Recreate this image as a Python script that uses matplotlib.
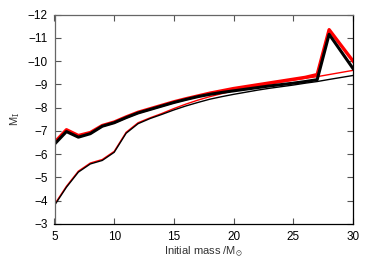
import matplotlib
matplotlib.use("Agg")
import matplotlib.pyplot as plt

plt.rcParams['font.family'] = ['Liberation Sans', 'DejaVu Sans']
plt.rcParams['mathtext.fontset'] = 'stixsans'

# initial masses (solar masses)
mass = [5, 6, 7, 8, 9, 10, 11, 12, 13, 14, 15, 16, 17, 18, 19, 20,
        21, 22, 23, 24, 25, 26, 27, 28, 30]

# thick curves
thick_red = [-6.50, -7.05, -6.80, -6.93, -7.23, -7.38, -7.60, -7.80, -7.95, -8.10,
             -8.25, -8.38, -8.50, -8.62, -8.72, -8.82, -8.90, -8.98, -9.06, -9.14,
             -9.22, -9.30, -9.42, -11.35, -10.00]
thick_black = [-6.43, -6.97, -6.73, -6.88, -7.20, -7.35, -7.57, -7.77, -7.92, -8.07,
               -8.22, -8.35, -8.47, -8.57, -8.65, -8.72, -8.79, -8.86, -8.93, -8.99,
               -9.05, -9.12, -9.20, -11.15, -9.68]

# thin curves
thin_red = [-3.84, -4.62, -5.27, -5.62, -5.77, -6.12, -6.94, -7.35, -7.56, -7.75,
            -7.96, -8.15, -8.32, -8.47, -8.60, -8.72, -8.82, -8.92, -9.01, -9.10,
            -9.18, -9.26, -9.33, -9.42, -9.60]
thin_black = [-3.80, -4.58, -5.23, -5.58, -5.73, -6.08, -6.90, -7.31, -7.53, -7.71,
              -7.90, -8.07, -8.22, -8.36, -8.47, -8.57, -8.66, -8.75, -8.83, -8.90,
              -8.97, -9.05, -9.12, -9.21, -9.38]

fig = plt.figure(figsize=(3.74, 2.61), dpi=100)
ax = fig.add_axes([54.5 / 374, 1 - 224 / 261, (353 - 54.5) / 374, (224 - 14.5) / 261])

ax.plot(mass, thin_red, color='red', lw=1.0)
ax.plot(mass, thin_black, color='black', lw=1.0)
ax.plot(mass, thick_red, color='red', lw=2.4)
ax.plot(mass, thick_black, color='black', lw=2.2)

ax.set_xlim(5, 30)
ax.set_ylim(-3, -12)
ax.set_xticks([5, 10, 15, 20, 25, 30])
ax.set_yticks(range(-12, -2))
ax.tick_params(direction='in', top=True, right=True, length=4, width=0.8,
               color='#555555', labelsize=8.5, pad=5)
for side in ['top', 'left']:
    ax.spines[side].set_color('#666666')
for side in ax.spines:
    ax.spines[side].set_linewidth(0.9)

ax.set_xlabel(r'Initial mass /M$_{\odot}$', fontsize=8, labelpad=1, color='#333333')
ax.set_ylabel(r'M$_{\rm I}$', fontsize=8, labelpad=4, color='#333333')

fig.savefig('out.png', dpi=100)
